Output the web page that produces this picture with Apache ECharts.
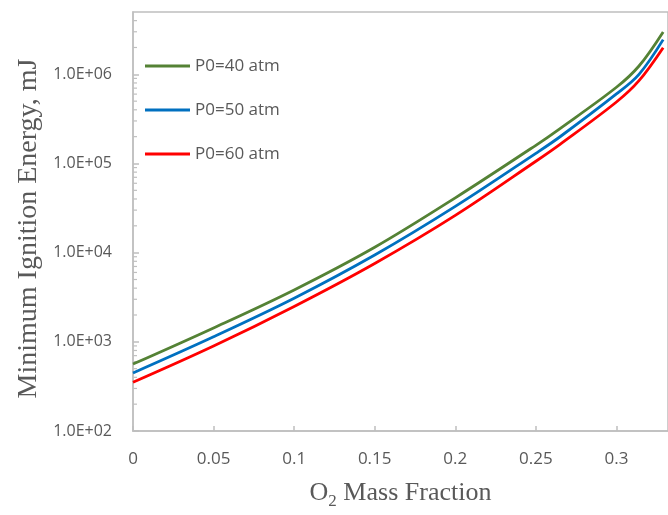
<!DOCTYPE html>
<html>
<head>
<meta charset="utf-8">
<script src="https://cdn.jsdelivr.net/npm/echarts@6/dist/echarts.min.js"></script>
<style>
html,body{margin:0;padding:0;background:#fff;}
#chart{width:668px;height:515px;}
</style>
</head>
<body>
<div id="chart"></div>
<script>
// O2 mass fraction (x) and minimum ignition energy (mJ) per initial pressure
const xValues = [0, 0.05, 0.1, 0.15, 0.2, 0.25, 0.265, 0.3, 0.314, 0.329];
const mie40 = [563, 1432, 3820, 11500, 41200, 160000, 246600, 716000, 1240000, 2990000];
const mie50 = [448, 1140, 3083, 9400, 33000, 130000, 199500, 603000, 1000000, 2450000];
const mie60 = [352, 898, 2495, 7570, 26200, 106000, 164000, 489000, 848000, 1990000];
const seriesNames = ['P0=40 atm', 'P0=50 atm', 'P0=60 atm'];
const xTicks = [0, 0.05, 0.1, 0.15, 0.2, 0.25, 0.3];
const X_MIN = 0, X_MAX = 0.332, X_STEP = 0.05;
const Y_MIN = 100, Y_MAX = 5000000;
const minorTicks = [
  200,300,400,500,600,700,800,900,
  2000,3000,4000,5000,6000,7000,8000,9000,
  20000,30000,40000,50000,60000,70000,80000,90000,
  200000,300000,400000,500000,600000,700000,800000,900000,
  2000000,3000000,4000000
];

const colors = ['#548235', '#0070C0', '#FF0000'];
const axisGray = '#bfbfbf';
const textGray = '#595959';

function pairs(ys){ return xValues.map((x,i)=>[x, ys[i]]); }

const chart = echarts.init(document.getElementById('chart'), null, {renderer:'canvas'});
const lineSeries = [mie40, mie50, mie60].map((ys, i) => ({
  name: seriesNames[i],
  type: 'line',
  data: pairs(ys),
  showSymbol: false,
  smooth: 0.35,
  lineStyle: {color: colors[i], width: 2.8},
  itemStyle: {color: colors[i]},
  z: 3
}));

chart.setOption({
  animation: false,
  backgroundColor: '#fff',
  grid: {left: 133, right: -1, top: 12, bottom: 79, show: true, borderColor: axisGray, borderWidth: 1.5},
  legend: {
    data: seriesNames,
    orient: 'vertical',
    left: 140, top: 51,
    icon: 'rect',
    itemWidth: 45, itemHeight: 3,
    itemGap: 24,
    textStyle: {fontFamily: 'Open Sans', fontSize: 17, color: textGray, lineHeight: 20}
  },
  xAxis: {
    type: 'value', min: X_MIN, max: X_MAX, interval: X_STEP,
    axisLine: {lineStyle: {color: axisGray, width: 1.5}},
    axisTick: {inside: true, length: 5, lineStyle: {color: axisGray, width: 1.5}},
    splitLine: {show: false},
    axisLabel: {
      showMaxLabel: false,
      margin: 20,
      fontFamily: 'Open Sans', fontSize: 17, color: textGray,
      formatter: v => (xTicks.some(t => Math.abs(t - v) < 1e-9) ? String(+v.toFixed(2)) : '')
    },
    name: '{a|O}{sub|2}{a| Mass Fraction}',
    nameLocation: 'middle',
    nameGap: 45,
    nameTextStyle: {
      rich: {
        a: {fontFamily: 'Liberation Serif', fontSize: 26, color: textGray, lineHeight: 34},
        sub: {fontFamily: 'Liberation Serif', fontSize: 17, color: textGray, lineHeight: 17, verticalAlign: 'bottom'}
      }
    }
  },
  yAxis: {
    type: 'log', logBase: 10, min: Y_MIN, max: Y_MAX,
    axisLine: {lineStyle: {color: axisGray, width: 1.5}},
    axisTick: {inside: true, length: 6, lineStyle: {color: axisGray, width: 1.5}},
    splitLine: {show: false},
    axisLabel: {
      showMaxLabel: false,
      margin: 21,
      fontFamily: 'Open Sans', fontSize: 16, color: textGray,
      formatter: v => {
        const e = Math.log10(v);
        if (Math.abs(e - Math.round(e)) > 1e-6) return '';
        return '1.0E+' + String(Math.round(e)).padStart(2, '0');
      }
    },
    name: 'Minimum Ignition Energy, mJ',
    nameLocation: 'middle',
    nameGap: 90,
    nameTextStyle: {fontFamily: 'Liberation Serif', fontSize: 28, color: textGray, padding: [0, 14, 0, 0]}
  },
  series: lineSeries.concat([{
    name: 'minorTicks',
    type: 'custom',
    silent: true,
    data: minorTicks.map(v => [X_MIN, v]),
    renderItem: function(params, api){
      const p = api.coord([api.value(0), api.value(1)]);
      return {type: 'line', shape: {x1: p[0], y1: p[1], x2: p[0] + 4, y2: p[1]},
              style: {stroke: axisGray, lineWidth: 1.2}};
    },
    z: 1
  }])
});
</script>
</body>
</html>
